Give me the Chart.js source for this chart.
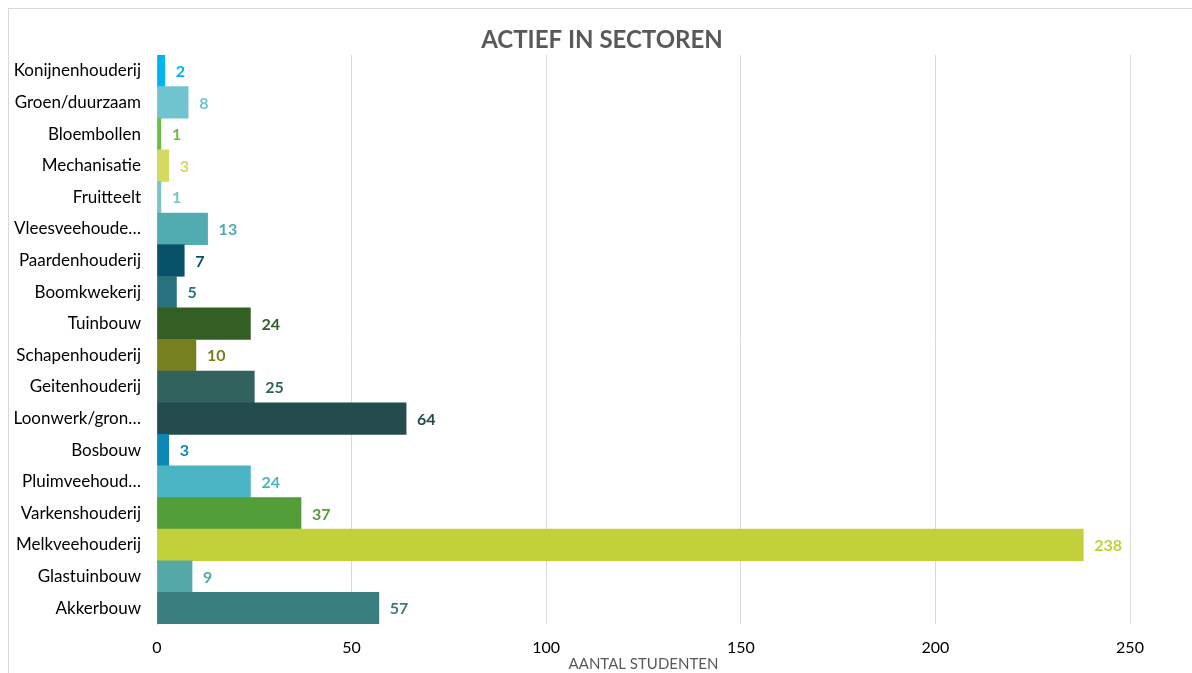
<!DOCTYPE html>
<html><head><meta charset="utf-8">
<script src="https://cdn.jsdelivr.net/npm/chart.js@4"></script>
<style>html,body{margin:0;padding:0;background:#fff;}#wrap{width:1192px;height:673px;position:relative;}</style>
</head><body><div id="wrap"><canvas id="c" width="1192" height="673"></canvas></div>
<script>
const categories = ["Konijnenhouderij","Groen/duurzaam","Bloembollen","Mechanisatie","Fruitteelt","Vleesveehoude…","Paardenhouderij","Boomkwekerij","Tuinbouw","Schapenhouderij","Geitenhouderij","Loonwerk/gron…","Bosbouw","Pluimveehoud…","Varkenshouderij","Melkveehouderij","Glastuinbouw","Akkerbouw"];
const values = [2,8,1,3,1,13,7,5,24,10,25,64,3,24,37,238,9,57];
const barColors = ["#00B4EE","#6FC4D0","#6CBE4A","#D2DA60","#7CC4C6","#50ACB0","#075269","#2A717F","#335E24","#76801F","#32625D","#244B4E","#0B88B4","#4AB4C4","#529E38","#C2D03A","#54A8A6","#3B7E80"];
const xTicks = [0,50,100,150,200,250];
const chartTitle = "ACTIEF IN SECTOREN";

const FONT = "Lato, 'Open Sans', sans-serif";

const labelsPlugin = {
  id: 'valLabels',
  afterDatasetsDraw(chart) {
    const ctx = chart.ctx;
    const meta = chart.getDatasetMeta(0);
    ctx.save();
    ctx.font = "bold 16px " + FONT;
    ctx.textAlign = "left";
    ctx.textBaseline = "middle";
    meta.data.forEach((bar, i) => {
      ctx.fillStyle = barColors[i];
      ctx.fillText(String(values[i]), bar.x + 11, bar.y + 1);
    });
    ctx.restore();
  }
};
const framePlugin = {
  id: 'frame',
  afterDraw(chart) {
    const ctx = chart.ctx;
    ctx.save();
    ctx.strokeStyle = "#d9d9d9";
    ctx.lineWidth = 1;
    ctx.strokeRect(8.5, 8.5, 1300, 800);
    ctx.fillStyle = "#595959";
    ctx.font = "bold 24px " + FONT;
    ctx.textAlign = "center";
    ctx.textBaseline = "middle";
    ctx.fillText(chartTitle, 602, 40);
    ctx.restore();
  }
};

new Chart(document.getElementById('c'), {
  type: 'bar',
  data: {
    labels: categories,
    datasets: [{
      data: values,
      backgroundColor: barColors,
      borderWidth: 0,
      barPercentage: 1,
      categoryPercentage: 1
    }]
  },
  options: {
    indexAxis: 'y',
    responsive: false,
    animation: false,
    layout: { padding: { left: 9, right: 62, top: 55, bottom: 0 } },
    plugins: {
      legend: { display: false },
      tooltip: { enabled: false },
      title: { display: false }
    },
    scales: {
      x: {
        min: 0, max: 250,
        afterBuildTicks(scale) { scale.ticks = xTicks.map(v => ({ value: v })); },
        ticks: { color: "#000", font: { family: FONT, size: 16 }, padding: 14 },
        grid: { color: "#d9d9d9", drawTicks: false },
        border: { display: false },
        title: {
          display: true, text: "AANTAL STUDENTEN", color: "#595959",
          font: { family: FONT, size: 15 }, padding: { top: 0, bottom: 0 }
        },
        afterFit(scale) { scale.height = 49; }
      },
      y: {
        ticks: { color: "#000", font: { family: FONT, size: 17 }, padding: 16, autoSkip: false },
        grid: { display: false, drawTicks: false },
        border: { display: true, color: "#d9d9d9" },
        afterFit(scale) { scale.width = 148; }
      }
    }
  },
  plugins: [labelsPlugin, framePlugin]
});
</script></body></html>
